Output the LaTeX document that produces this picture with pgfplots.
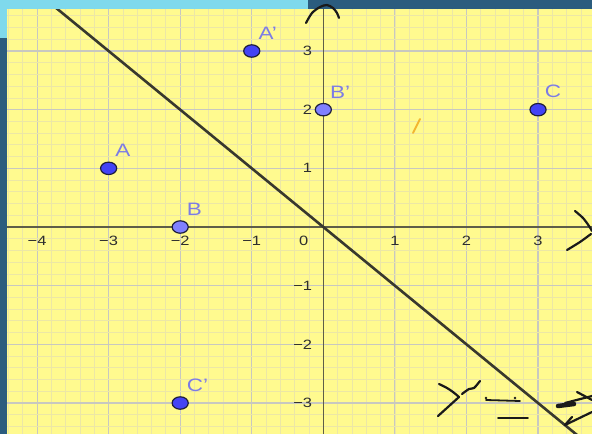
\documentclass[border=0pt]{standalone}
\usepackage{fontspec}
\setmainfont{Liberation Sans}
\usepackage{pgfplots}
\pgfplotsset{compat=1.18}
\definecolor{yellowbg}{HTML}{FFFA8F}
\definecolor{majorgrid}{HTML}{C8C8C0}
\definecolor{minorgrid}{HTML}{ECE7A6}
\definecolor{axiscol}{HTML}{5E5E48}
\definecolor{linecol}{HTML}{38382E}
\definecolor{ptdark}{HTML}{4343F5}
\definecolor{ptlight}{HTML}{8080FF}
\definecolor{ptedge}{HTML}{1E1E3C}
\definecolor{labcol}{HTML}{7C7CE6}
\definecolor{cyanband}{HTML}{7FD9EC}
\definecolor{darkband}{HTML}{2B5C7E}
\definecolor{orangecol}{HTML}{F2B530}
\definecolor{tickcol}{HTML}{2E2E2E}
\definecolor{scrib}{HTML}{1A1A1A}
\newcommand\ticklab{\fontsize{13.5pt}{13.5pt}\selectfont}
\newcommand\lab{\fontsize{18pt}{18pt}\selectfont}
\begin{document}
\begin{tikzpicture}
\useasboundingbox (0,0) rectangle (592pt,434pt);
\clip (0,0) rectangle (592pt,434pt);
\fill[cyanband] (0pt,425pt) rectangle (308pt,434pt);
\fill[darkband] (308pt,425pt) rectangle (592pt,434pt);
\fill[cyanband] (0pt,396pt) rectangle (7pt,434pt);
\fill[darkband] (0pt,0pt) rectangle (7pt,396pt);
\begin{axis}[at={(7pt,0pt)}, anchor=south west, scale only axis,
  width=585pt, height=425pt,
  xmin=-4.42, xmax=3.754, ymin=-3.528, ymax=3.716,
  axis lines=middle,
  axis line style={draw=axiscol, line width=1.6pt},
  every inner x axis line/.append style={-},
  every inner y axis line/.append style={-},
  axis background/.style={fill=yellowbg},
  xtick={-4,-3,-2,-1,0,1,2,3}, xticklabels={−4,−3,−2,−1,,1,2,3},
  ytick={-3,-2,-1,0,1,2,3}, yticklabels={−3,−2,−1,,1,2,3},
  minor xtick={-4.4,-4.2,...,3.8},
  minor ytick={-3.4,-3.2,...,3.8},
  grid=both,
  major grid style={draw=majorgrid, line width=1.1pt},
  minor grid style={draw=minorgrid, line width=0.8pt},
  major tick length=0pt, minor tick length=0pt,
  xticklabel style={anchor=center, inner sep=0pt, yshift=-14pt, font=\ticklab, text=tickcol, xscale=1.22},
  yticklabel style={anchor=east, inner sep=0pt, xshift=-11pt, font=\ticklab, text=tickcol, xscale=1.22},
]
\addplot[draw=linecol, line width=2.6pt] coordinates {(-4.5,4.5) (3.8,-3.8)};
\addplot[only marks, mark=*, mark size=6.2pt,
  mark options={xscale=1.3, fill=ptdark, draw=ptedge, line width=1.2pt},
  nodes near coords, point meta=explicit symbolic,
  every node near coord/.style={anchor=south west, inner sep=0pt, xshift=6pt, yshift=11pt, font=\lab, text=labcol, xscale=1.25}]
  coordinates {(-3,1) [A] (3,2) [C] (-1,3) [A'] (-2,-3) [C']};
\addplot[only marks, mark=*, mark size=6.2pt,
  mark options={xscale=1.3, fill=ptlight, draw=ptedge, line width=1.2pt},
  nodes near coords, point meta=explicit symbolic,
  every node near coord/.style={anchor=south west, inner sep=0pt, xshift=6pt, yshift=11pt, font=\lab, text=labcol, xscale=1.25}]
  coordinates {(-2,0) [B] (0,2) [B']};
\node[font=\ticklab, text=tickcol, xscale=1.22, inner sep=0pt, xshift=-16pt, yshift=-14pt] at (axis cs:0,0) {0};
\end{axis}
\begin{scope}[x=1pt, y=-1pt, shift={(0pt,434pt)}, draw=scrib, line width=2.2pt, line cap=round, line join=round]
\draw plot[smooth] coordinates {(306,23) (312,13) (320,7) (327,5) (333,8) (337,13) (339,18)};
\draw plot[smooth] coordinates {(575,211) (583,218) (589,226) (592,231)};
\draw plot[smooth] coordinates {(591,234) (580,242) (567,250)};
\draw plot[smooth] coordinates {(439,384) (447,388) (453,392) (459,397)};
\draw plot[smooth] coordinates {(462,394) (469,389) (474,388) (480,381)};
\draw plot[smooth] coordinates {(459,397) (448,407) (438,416)};
\draw[line width=1.8pt] (486,400) -- (520,401);
\fill[scrib] (486,398) circle (1.3pt);
\fill[scrib] (515,398) circle (1.3pt);
\draw[line width=1.8pt] (498,418) -- (528,418);
\draw[line width=4.5pt] (558,406) -- (574,404);
\draw (565,403) -- (592,396);
\draw (577,392) -- (592,400);
\draw (565,425) -- (592,412);
\draw (565,425) -- (572,417);
\draw[draw=orangecol, line width=1.8pt] (420,119) -- (413,133);
\end{scope}
\end{tikzpicture}
\end{document}
